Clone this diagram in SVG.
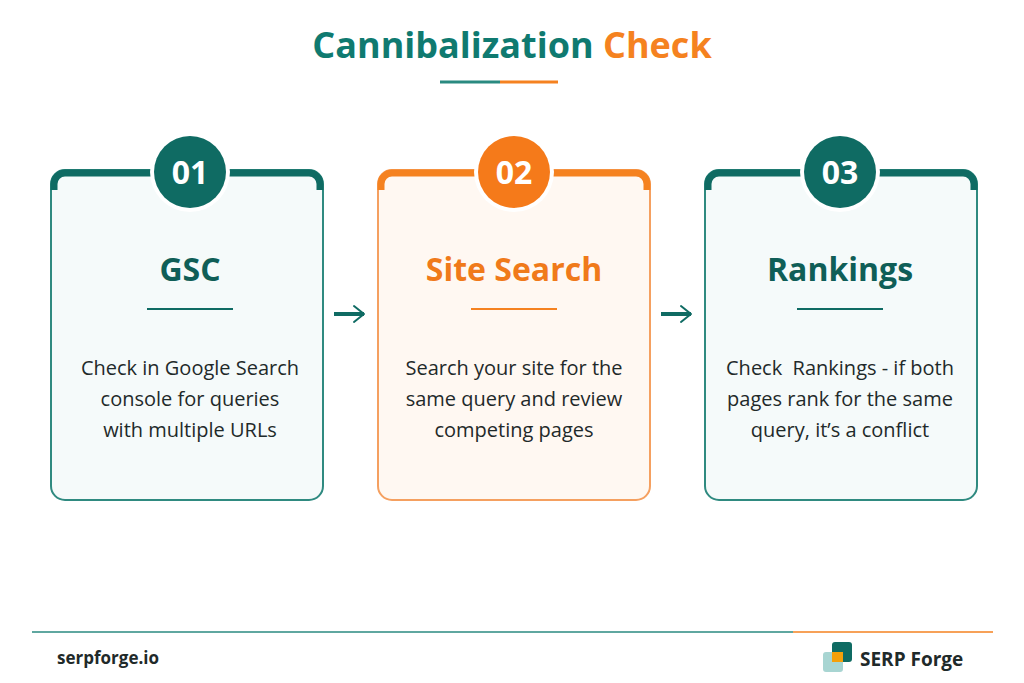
<svg xmlns="http://www.w3.org/2000/svg" width="1024" height="683" viewBox="0 0 1024 683">
<defs>
<style>
text{font-family:"Open Sans","Liberation Sans",sans-serif}
.t{font-weight:700;font-size:32px;text-anchor:middle}
.b{font-size:20px;fill:#1f2a2a;text-anchor:middle}
.n{font-weight:700;font-size:32px;fill:#fff;text-anchor:middle}
</style>
<marker id="ah" viewBox="0 0 10 10" refX="8" refY="5" markerWidth="5" markerHeight="5" orient="auto"><path d="M3,1 L8,5 L3,9" fill="none" stroke="#0f6b63" stroke-width="1" stroke-linecap="round" stroke-linejoin="round"/></marker>
</defs>
<rect width="1024" height="683" fill="#fff"/>
<text x="512" y="58" style="font-weight:700;font-size:36px;text-anchor:middle"><tspan fill="#0f7a70">Cannibalization </tspan><tspan fill="#f58220">Check</tspan></text>
<line x1="440" y1="82" x2="500" y2="82" stroke="#2a8a80" stroke-width="3"/>
<line x1="500" y1="82" x2="558" y2="82" stroke="#f58220" stroke-width="3"/>

<g id="card1">
<rect x="51" y="170" width="272" height="330" rx="14" fill="#f5fafa" stroke="#2f8a80" stroke-width="2"/>
<path d="M54,190 v-6 a11,11 0 0 1 11,-11 h244 a11,11 0 0 1 11,11 v6" fill="none" stroke="#0f6b63" stroke-width="7"/>
<circle cx="190" cy="172" r="40" fill="#fff"/>
<circle cx="190" cy="172" r="36" fill="#0f6b63"/>
<text class="n" x="190" y="184">01</text>
<text class="t" x="190" y="281" fill="#0f5e57">GSC</text>
<line x1="147" y1="309" x2="233" y2="309" stroke="#0f6b63" stroke-width="2"/>
<text class="b" x="190" y="375">Check in Google Search</text>
<text class="b" x="190" y="406">console for queries</text>
<text class="b" x="190" y="437">with multiple URLs</text>
</g>

<g id="card2">
<rect x="378" y="170" width="272" height="330" rx="14" fill="#fff8f2" stroke="#f5a060" stroke-width="2"/>
<path d="M381,190 v-6 a11,11 0 0 1 11,-11 h244 a11,11 0 0 1 11,11 v6" fill="none" stroke="#f58220" stroke-width="7"/>
<circle cx="514" cy="172" r="40" fill="#fff"/>
<circle cx="514" cy="172" r="36" fill="#f57a1a"/>
<text class="n" x="514" y="184">02</text>
<text class="t" x="514" y="281" fill="#f07a1a">Site Search</text>
<line x1="471" y1="309" x2="557" y2="309" stroke="#f58220" stroke-width="2"/>
<text class="b" x="514" y="375">Search your site for the</text>
<text class="b" x="514" y="406">same query and review</text>
<text class="b" x="514" y="437">competing pages</text>
</g>

<g id="card3">
<rect x="705" y="170" width="272" height="330" rx="14" fill="#f5fafa" stroke="#2f8a80" stroke-width="2"/>
<path d="M708,190 v-6 a11,11 0 0 1 11,-11 h244 a11,11 0 0 1 11,11 v6" fill="none" stroke="#0f6b63" stroke-width="7"/>
<circle cx="840" cy="172" r="40" fill="#fff"/>
<circle cx="840" cy="172" r="36" fill="#0f6b63"/>
<text class="n" x="840" y="184">03</text>
<text class="t" x="840" y="281" fill="#0f5e57">Rankings</text>
<line x1="797" y1="309" x2="883" y2="309" stroke="#0f6b63" stroke-width="2"/>
<text class="b" x="840" y="375" xml:space="preserve">Check  Rankings - if both</text>
<text class="b" x="840" y="406">pages rank for the same</text>
<text class="b" x="840" y="437">query, it’s a conflict</text>
</g>

<g id="connectors">
<path d="M334,314 H364" stroke="#0f6b63" stroke-width="4" marker-end="url(#ah)"/>
<path d="M661,314 H691" stroke="#0f6b63" stroke-width="4" marker-end="url(#ah)"/>
</g>

<g id="footer">
<line x1="32" y1="632" x2="793" y2="632" stroke="#2a8a80" stroke-width="1.5"/>
<line x1="793" y1="632" x2="993" y2="632" stroke="#f58220" stroke-width="1.5"/>
<text x="57" y="664" style="font-weight:700;font-size:17px" fill="#1f2a2a">serpforge.io</text>
<rect x="823" y="652" width="20" height="20" rx="3" fill="#a8d5d2"/>
<rect x="832" y="642" width="20" height="20" rx="3" fill="#0f6b63"/>
<rect x="832" y="652" width="11" height="10" fill="#f5a00a"/>
<text x="860" y="666" style="font-weight:700;font-size:19px" fill="#1f2a2a">SERP Forge</text>
</g>
</svg>
